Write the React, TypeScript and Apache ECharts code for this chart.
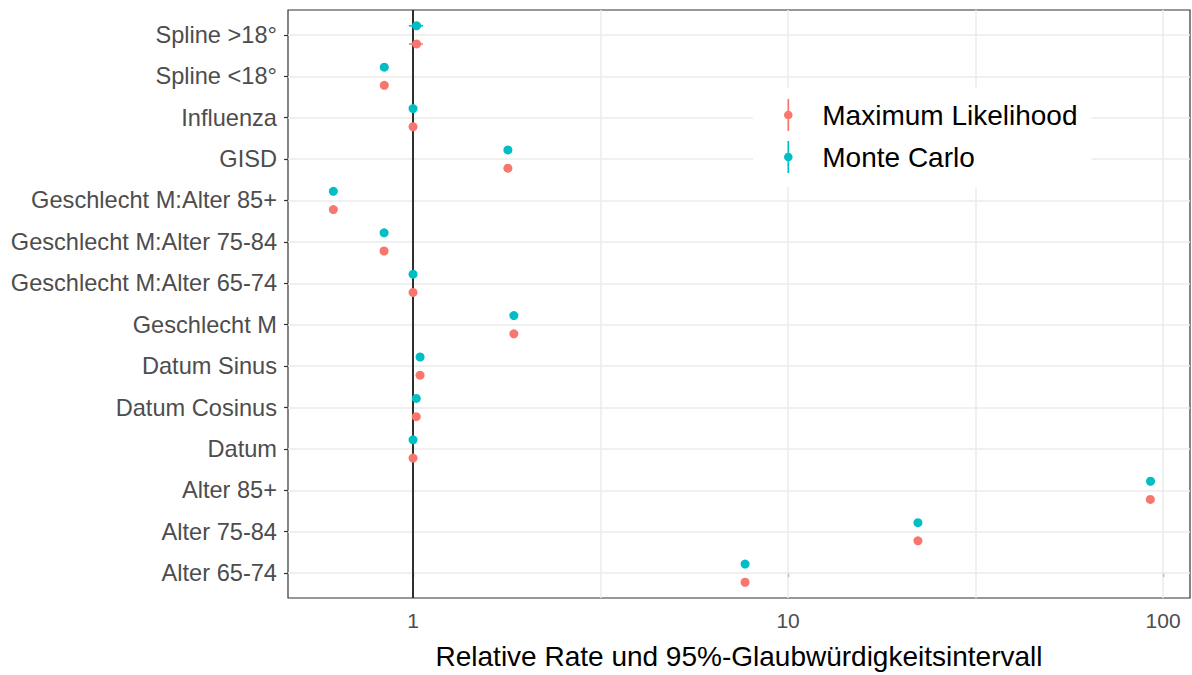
import React, { useEffect, useRef } from 'react';
import * as echarts from 'echarts';

// Model terms, listed bottom to top as they appear on the y axis
const categories = [
  'Alter 65-74',
  'Alter 75-84',
  'Alter 85+',
  'Datum',
  'Datum Cosinus',
  'Datum Sinus',
  'Geschlecht M',
  'Geschlecht M:Alter 65-74',
  'Geschlecht M:Alter 75-84',
  'Geschlecht M:Alter 85+',
  'GISD',
  'Influenza',
  'Spline <18°',
  'Spline >18°',
];

// Maximum likelihood: relative rate and 95% interval
const mlEstimate = [7.68, 22.2, 92.5, 1.0, 1.02, 1.044, 1.857, 1.0, 0.837, 0.613, 1.79, 1.0, 0.838, 1.022];
const mlLower = [7.52, 21.8, 90.8, 0.996, 1.012, 1.036, 1.835, 0.992, 0.829, 0.606, 1.775, 0.996, 0.829, 0.975];
const mlUpper = [7.85, 22.6, 94.3, 1.004, 1.028, 1.052, 1.879, 1.008, 0.845, 0.62, 1.806, 1.004, 0.847, 1.062];

// Monte Carlo: relative rate and 95% credibility interval
const mcEstimate = [7.68, 22.2, 92.6, 1.0, 1.02, 1.044, 1.857, 1.0, 0.837, 0.613, 1.79, 1.0, 0.838, 1.022];
const mcLower = [7.51, 21.8, 90.7, 0.996, 1.012, 1.036, 1.834, 0.992, 0.829, 0.606, 1.774, 0.996, 0.828, 0.974];
const mcUpper = [7.86, 22.6, 94.4, 1.004, 1.028, 1.052, 1.88, 1.008, 0.845, 0.62, 1.807, 1.004, 0.848, 1.064];

const xTicks = [1, 10, 100];
const xMinorGrid = [3.1623, 31.623];
const seriesNames = ['Maximum Likelihood', 'Monte Carlo'];
const xTitle = 'Relative Rate und 95%-Glaubwürdigkeitsintervall';

const FONT = '"Liberation Sans", Arial, Helvetica, sans-serif';
const ML_COLOR = '#F8766D';
const MC_COLOR = '#00BFC4';
const DODGE = 0.22;

// point-range key glyph: thin vertical bar with a dot in the middle
const legendIcon =
  'path://M3.15,0 L4.85,0 L4.85,32 L3.15,32 Z M8.3,16 A4.3,4.3 0 1,1 -0.3,16 A4.3,4.3 0 1,1 8.3,16 Z';

const yIndex = categories.map((_, i) => i);

function pointRange(color: string, offset: number) {
  return (_params: any, api: any) => {
    const y = api.value(0) + offset;
    const lo = api.coord([api.value(2), y]);
    const hi = api.coord([api.value(3), y]);
    const c = api.coord([api.value(1), y]);
    return {
      type: 'group',
      children: [
        {
          type: 'line',
          shape: { x1: lo[0], y1: lo[1], x2: hi[0], y2: hi[1] },
          style: { stroke: color, lineWidth: 1.6 },
        },
        {
          type: 'circle',
          shape: { cx: c[0], cy: c[1], r: 4.5 },
          style: { fill: color },
        },
      ],
    };
  };
}

function rows(est: number[], lo: number[], hi: number[]) {
  return categories.map((_, i) => [i, est[i], lo[i], hi[i]]);
}

export default function App() {
  const ref = useRef<HTMLDivElement>(null);

  useEffect(() => {
    if (!ref.current) return;
    const chart = echarts.init(ref.current, undefined, { renderer: 'svg' });

    const option: any = {
      animation: false,
      backgroundColor: '#ffffff',
      textStyle: { fontFamily: FONT },
      grid: {
        left: 288,
        right: 2,
        top: 10,
        bottom: 74,
        show: true,
        backgroundColor: '#ffffff',
        borderColor: '#333333',
        borderWidth: 1.2,
        containLabel: false,
      },
      legend: {
        data: seriesNames,
        orient: 'vertical',
        left: 753,
        top: 88,
        z: 10,
        padding: [11, 14, 14, 31],
        itemWidth: 58,
        itemHeight: 32,
        itemGap: 10,
        backgroundColor: '#ffffff',
        icon: legendIcon,
        symbolKeepAspect: true,
        selectedMode: false,
        textStyle: { fontSize: 28, color: '#000000', fontFamily: FONT },
      },
      xAxis: {
        type: 'log',
        logBase: 10,
        min: 0.464,
        max: 118,
        axisLine: { show: false },
        axisTick: {
          customValues: xTicks,
          length: 4,
          lineStyle: { color: '#333333', width: 1.2 },
        },
        axisLabel: {
          customValues: xTicks,
          formatter: (v: number) => String(Math.round(v)),
          color: '#4D4D4D',
          fontSize: 21,
          margin: 12,
          fontFamily: FONT,
        },
        splitLine: { show: false },
        minorSplitLine: { show: false },
        name: xTitle,
        nameLocation: 'middle',
        nameGap: 44,
        nameTextStyle: { fontSize: 28, color: '#000000', fontFamily: FONT },
      },
      yAxis: {
        type: 'value',
        min: -0.6,
        max: 13.6,
        axisLine: { show: false },
        axisTick: {
          customValues: yIndex,
          length: 4,
          lineStyle: { color: '#333333', width: 1.2 },
        },
        axisLabel: {
          customValues: yIndex,
          formatter: (v: number) => categories[Math.round(v)] ?? '',
          color: '#4D4D4D',
          fontSize: 23.6,
          margin: 11,
          padding: [4, 0, 0, 0],
          fontFamily: FONT,
        },
        splitLine: { show: false },
      },
      series: [
        {
          name: 'grid',
          type: 'line',
          data: [],
          silent: true,
          z: 1,
          markLine: {
            z: 1,
            silent: true,
            symbol: 'none',
            label: { show: false },
            lineStyle: { color: '#EBEBEB', width: 1.5, type: 'solid' },
            data: [
              ...yIndex.map((i) => ({ yAxis: i })),
              ...xTicks.map((v) => ({ xAxis: v })),
              ...xMinorGrid.map((v) => ({ xAxis: v })),
            ],
          },
        },
        {
          name: 'reference',
          type: 'line',
          data: [],
          silent: true,
          z: 2,
          markLine: {
            z: 2,
            silent: true,
            symbol: 'none',
            label: { show: false },
            lineStyle: { color: '#1A1A1A', width: 1.8, type: 'solid' },
            data: [{ xAxis: 1 }],
          },
        },
        {
          name: seriesNames[0],
          type: 'custom',
          z: 3,
          itemStyle: { color: ML_COLOR },
          renderItem: pointRange(ML_COLOR, -DODGE),
          encode: { x: [1, 2, 3], y: 0 },
          data: rows(mlEstimate, mlLower, mlUpper),
        },
        {
          name: seriesNames[1],
          type: 'custom',
          z: 3,
          itemStyle: { color: MC_COLOR },
          renderItem: pointRange(MC_COLOR, DODGE),
          encode: { x: [1, 2, 3], y: 0 },
          data: rows(mcEstimate, mcLower, mcUpper),
        },
      ],
    };

    chart.setOption(option);
    return () => chart.dispose();
  }, []);

  return (
    <div
      ref={ref}
      style={{ position: 'fixed', left: 0, top: 0, width: 1192, height: 675 }}
    />
  );
}
